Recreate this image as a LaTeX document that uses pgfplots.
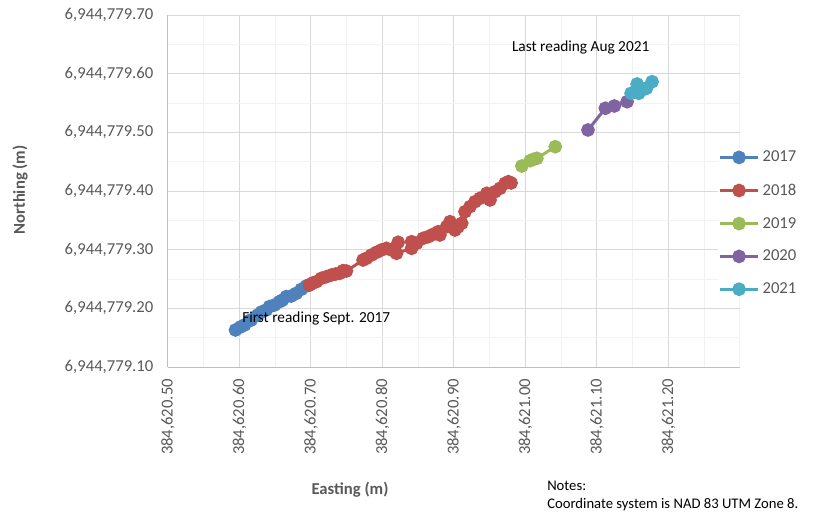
\documentclass[border=0pt]{standalone}
\usepackage{pgfplots}
\pgfplotsset{compat=1.18}
\usepackage{fontspec}
\setmainfont{Carlito}
\definecolor{s17}{HTML}{4F81BD}
\definecolor{s18}{HTML}{C0504D}
\definecolor{s19}{HTML}{9BBB59}
\definecolor{s20}{HTML}{8064A2}
\definecolor{s21}{HTML}{4BACC6}
\definecolor{txt}{HTML}{595959}
\definecolor{gmaj}{HTML}{D9D9D9}
\definecolor{gmin}{HTML}{F2F2F2}
\definecolor{axl}{HTML}{BFBFBF}
% Values are Easting - 384620 m and Northing - 6944779 m
\begin{document}
\begin{tikzpicture}
\useasboundingbox (-126pt,-110.25pt) rectangle (483.75pt,275.25pt);
\begin{axis}[
  scale only axis, width=429pt, height=264pt,
  xmin=0.5, xmax=1.3, ymin=0.1, ymax=0.7,
  xtick={0.5,0.6,0.7,0.8,0.9,1.0,1.1,1.2},
  xticklabels={{384,620.50},{384,620.60},{384,620.70},{384,620.80},{384,620.90},{384,621.00},{384,621.10},{384,621.20}},
  minor xtick={0.55,0.65,0.75,0.85,0.95,1.05,1.15,1.25,1.3},
  ytick={0.1,0.2,0.3,0.4,0.5,0.6,0.7},
  yticklabels={{6,944,779.10},{6,944,779.20},{6,944,779.30},{6,944,779.40},{6,944,779.50},{6,944,779.60},{6,944,779.70}},
  minor ytick={0.15,0.25,0.35,0.45,0.55,0.65},
  grid=both,
  major grid style={draw=gmaj, line width=0.75pt},
  minor grid style={draw=gmin, line width=0.75pt},
  axis x line*=bottom, axis y line*=left,
  axis line style={draw=axl, line width=0.75pt, -},
  major tick length=0pt, minor tick length=0pt,
  ticklabel style={font=\fontsize{12.5}{15}\selectfont, text=txt},
  xticklabel style={rotate=90, anchor=east},
  xticklabel shift=5.5pt,
  yticklabel shift=7.5pt,
  legend style={at={(0.9615,0.622)}, anchor=north west, draw=none, fill=white,
    inner sep=0pt, row sep=11pt, font=\fontsize{12.5}{15}\selectfont, text=txt},
  legend cell align=left,
  legend image code/.code={\draw[mark repeat=2, mark phase=2, #1] plot coordinates {(0pt,0pt) (14.5pt,0pt) (29pt,0pt)};},
  every axis plot/.append style={line width=2.25pt, mark=*, mark size=4pt},
]
\addplot[color=s17, mark options={solid, fill=s17, draw=s17}] coordinates {
(0.5944,0.1631) (0.6014,0.1682) (0.6070,0.1716) (0.6140,0.1790) (0.6164,0.1801)
(0.6256,0.1887) (0.6308,0.1938) (0.6374,0.1972) (0.6420,0.2030) (0.6490,0.2057)
(0.6560,0.2113) (0.6600,0.2140) (0.6654,0.2199) (0.6724,0.2210) (0.6794,0.2256)
(0.6865,0.2325) (0.6935,0.2381) (0.6981,0.2403)
};
\addlegendentry{2017}
\addplot[color=s18, mark options={solid, fill=s18, draw=s18}] coordinates {
(0.6981,0.2398) (0.7023,0.2432) (0.7075,0.2454) (0.7145,0.2512) (0.7215,0.2539)
(0.7285,0.2568) (0.7345,0.2585) (0.7402,0.2597) (0.7448,0.2642) (0.7495,0.2636)
(0.7728,0.2824) (0.7776,0.2853) (0.7846,0.2909) (0.7916,0.2955) (0.7986,0.2995)
(0.8056,0.3023) (0.8126,0.2995) (0.8219,0.3126) (0.8196,0.2938) (0.8407,0.3023)
(0.8407,0.3136) (0.8477,0.3109) (0.8569,0.3194) (0.8639,0.3221) (0.8710,0.3262)
(0.8780,0.3306) (0.8803,0.3250) (0.8897,0.3392) (0.8944,0.3477) (0.9014,0.3335)
(0.9056,0.3387) (0.9108,0.3450) (0.9154,0.3647) (0.9224,0.3733) (0.9294,0.3818)
(0.9364,0.3876) (0.9458,0.3961) (0.9504,0.3847) (0.9575,0.3988) (0.9645,0.4046)
(0.9715,0.4131) (0.9761,0.4159) (0.9799,0.4137)
};
\addlegendentry{2018}
\addplot[color=s19, mark options={solid, fill=s19, draw=s19}] coordinates {
(0.9949,0.4426) (1.0065,0.4517) (1.0111,0.4540) (1.0159,0.4557) (1.0416,0.4755)
};
\addlegendentry{2019}
\addplot[color=s20, mark options={solid, fill=s20, draw=s20}] coordinates {
(1.0874,0.5040) (1.1117,0.5410) (1.1243,0.5449) (1.1421,0.5522)
};
\addlegendentry{2020}
\addplot[color=s21, mark options={solid, fill=s21, draw=s21}] coordinates {
(1.1477,0.5665) (1.1561,0.5824) (1.1584,0.5665) (1.1654,0.5734) (1.1691,0.5751) (1.1771,0.5863)
};
\addlegendentry{2021}
\end{axis}
\node[font=\fontsize{12.5}{15}\selectfont\bfseries, text=txt, rotate=90] at (-111pt,132.75pt) {Northing (m)};
\node[font=\fontsize{12.5}{15}\selectfont\bfseries, text=txt] at (136.5pt,-92.25pt) {Easting (m)};
\node[font=\fontsize{11.5}{13}\selectfont, anchor=west, inner sep=0pt] at (55.5pt,36.75pt) {First reading Sept. 2017};
\node[font=\fontsize{11.5}{13}\selectfont, anchor=west, inner sep=0pt] at (257.8pt,240pt) {Last reading Aug 2021};
\node[font=\fontsize{11}{13}\selectfont, anchor=west, inner sep=0pt] at (284.25pt,-89.25pt) {Notes:};
\node[font=\fontsize{11}{13}\selectfont, anchor=west, inner sep=0pt] at (284.25pt,-103.5pt) {Coordinate system is NAD 83 UTM Zone 8.};
\end{tikzpicture}
\end{document}
